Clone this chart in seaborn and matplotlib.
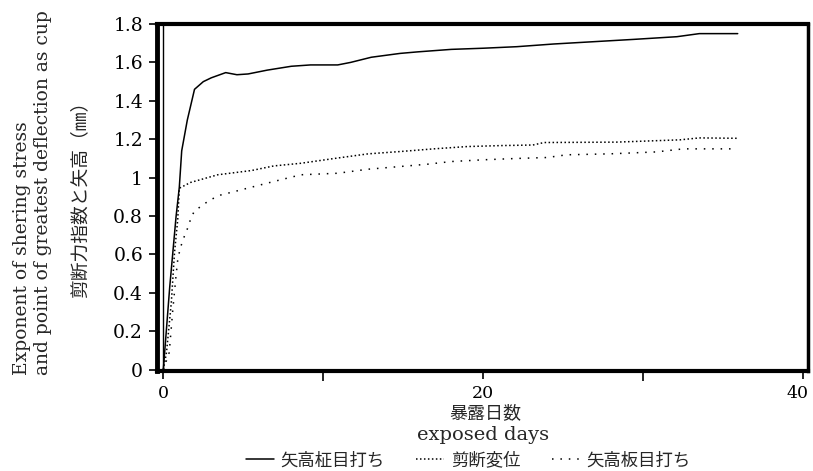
import matplotlib
matplotlib.use("Agg")
import matplotlib.pyplot as plt
import matplotlib.transforms as mtransforms
import seaborn as sns
import pandas as pd

sns.set_theme(style="ticks")
plt.rcParams['font.family'] = ['DejaVu Serif', 'Noto Sans CJK JP', 'DejaVu Sans']

series_names = ["矢高柾目打ち", "剪断変位", "矢高板目打ち"]

days_masa = [0, 0.4, 0.8, 1.0, 1.15, 1.5, 1.95, 2.5, 3.0, 3.9, 4.6, 5.3, 6.5, 8.0, 9.2,
             10.9, 11.7, 13.0, 14.8, 15.9, 18.0, 20.0, 22.1, 24.4, 26.9, 29.4, 32.1, 33.5, 35.9]
vals_masa = [0, 0.43, 0.80, 0.95, 1.14, 1.30, 1.46, 1.50, 1.52, 1.547, 1.536, 1.54, 1.56, 1.58, 1.587,
             1.587, 1.60, 1.627, 1.647, 1.655, 1.668, 1.674, 1.682, 1.696, 1.708, 1.72, 1.734, 1.75, 1.75]

days_shear = [0, 0.2, 0.5, 0.7, 0.9, 1.0, 1.7, 3.4, 5.5, 6.9, 8.6, 10.7, 12.8, 14.8, 16.9,
              19.0, 21.1, 23.1, 23.8, 28.3, 32.3, 33.5, 35.9]
vals_shear = [0, 0.09, 0.35, 0.61, 0.78, 0.945, 0.975, 1.015, 1.037, 1.061, 1.075, 1.10, 1.124, 1.136, 1.15,
              1.162, 1.167, 1.170, 1.183, 1.185, 1.197, 1.207, 1.205]

days_ita = [0, 0.37, 0.59, 0.79, 0.9, 1.06, 1.27, 1.52, 1.73, 1.93, 2.46, 2.97, 3.6, 4.6, 6.9,
            8.6, 10.9, 12.8, 14.8, 16.5, 18.0, 20.0, 22.1, 24.0, 25.2, 27.9, 30.8, 32.5, 35.6]
vals_ita = [0, 0.09, 0.31, 0.485, 0.572, 0.633, 0.685, 0.737, 0.79, 0.824, 0.858, 0.886, 0.91, 0.931, 0.98,
            1.015, 1.023, 1.044, 1.058, 1.07, 1.084, 1.093, 1.10, 1.105, 1.119, 1.124, 1.134, 1.15, 1.15]

x_ticks = [0, 20, 40]
x_minor = [10, 30]
y_ticks = [0, 0.2, 0.4, 0.6, 0.8, 1.0, 1.2, 1.4, 1.6, 1.8]
y_ticklabels = ["0", "0.2", "0.4", "0.6", "0.8", "1", "1.2", "1.4", "1.6", "1.8"]

frames = []
for name, d, v in zip(series_names, [days_masa, days_shear, days_ita], [vals_masa, vals_shear, vals_ita]):
    frames.append(pd.DataFrame({"day": d, "val": v, "series": name}))
df = pd.concat(frames, ignore_index=True)

fig = plt.figure(figsize=(8.13, 4.71), dpi=100)
ax = fig.add_axes([0.193, 0.213, 0.801, 0.736])

styles = {"矢高柾目打ち": "-", "剪断変位": (0, (1, 1.6)), "矢高板目打ち": (0, (1, 4.5))}
for name in series_names:
    sub = df[df.series == name]
    sns.lineplot(data=sub, x="day", y="val", ax=ax, color="black", linewidth=1.1,
                 linestyle=styles[name], estimator=None, sort=False, label=name, legend=False)

ax.axvline(0, color="black", linewidth=1.0)

ax.set_xlim(-0.4, 40.3)
ax.set_ylim(-0.005, 1.8)
ax.set_xticks(x_ticks)
ax.set_xticks(x_minor, minor=True)
ax.set_yticks(y_ticks)
ax.set_yticklabels(y_ticklabels)
ax.tick_params(axis="both", which="both", direction="out", length=6, width=1.2, colors="black",
               labelsize=13.5, pad=4)
ax.tick_params(axis="x", labelsize=12.5)
ax.tick_params(axis="x", which="minor", length=7)
for s, w in zip(["left", "top", "right", "bottom"], [3.5, 3.0, 2.5, 3.0]):
    ax.spines[s].set_visible(True)
    ax.spines[s].set_linewidth(w)
    ax.spines[s].set_color("black")
ax.set_xlabel("")
ax.set_ylabel("")

# nudge the last x tick label slightly left so it stays inside the figure
last = ax.get_xticklabels()[-1]
last.set_transform(last.get_transform() + mtransforms.ScaledTranslation(-6 / 100, 0, fig.dpi_scale_trans))

fig.text(0.040, 0.592, "Exponent of shering stress\nand point of greatest deflection as cup",
         rotation=90, ha="center", va="center", multialignment="left", fontsize=13.5, linespacing=1.25)
fig.text(0.098, 0.586, "剪断力指数と矢高（㎜）", rotation=90, ha="center", va="center",
         fontsize=13.5, family=['Noto Sans CJK JP', 'DejaVu Sans'])

fig.text(0.597, 0.123, "暴露日数", ha="center", va="center", fontsize=13,
         family=['Noto Sans CJK JP', 'DejaVu Sans'])
fig.text(0.594, 0.076, "exposed days", ha="center", va="center", fontsize=14)

handles, labels = ax.get_legend_handles_labels()
leg = fig.legend(handles, labels, loc="center", bbox_to_anchor=(0.576, 0.023), ncol=3, frameon=False,
                 handlelength=1.6, handletextpad=0.4, columnspacing=1.8,
                 prop={"family": ['Noto Sans CJK JP', 'DejaVu Sans'], "size": 12.5})

fig.savefig("out.png", dpi=100)
